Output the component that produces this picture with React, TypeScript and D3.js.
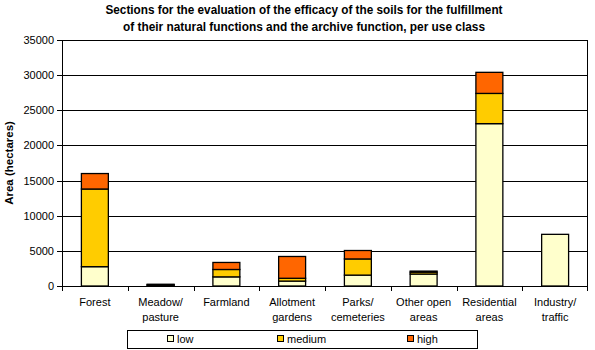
import React from 'react';
import * as d3 from 'd3';

const categories = [
  ['Forest'],
  ['Meadow/', 'pasture'],
  ['Farmland'],
  ['Allotment', 'gardens'],
  ['Parks/', 'cemeteries'],
  ['Other open', 'areas'],
  ['Residential', 'areas'],
  ['Industry/', 'traffic'],
];
const low = [2750, 100, 1300, 700, 1550, 1700, 23100, 7350];
const medium = [11050, 80, 1050, 400, 2300, 270, 4300, 0];
const high = [2200, 70, 1000, 3100, 1200, 150, 3000, 0];
const seriesNames = ['low', 'medium', 'high'];
const seriesColors = ['#FFFFCC', '#FFCC00', '#FF6600'];
const yTicks = [0, 5000, 10000, 15000, 20000, 25000, 30000, 35000];

const W = 595;
const H = 350;
const margin = { top: 40, right: 7, bottom: 64, left: 62 };
const font = 'Arial, "Liberation Sans", sans-serif';

const App = () => {
  const innerW = W - margin.left - margin.right;
  const innerH = H - margin.top - margin.bottom;

  const x = d3.scaleBand().domain(categories.map((c, i) => String(i))).range([0, innerW]);
  const y = d3.scaleLinear().domain([0, 35000]).range([innerH, 0]);

  const rows = categories.map((c, i) => ({ key: String(i), low: low[i], medium: medium[i], high: high[i] }));
  const stacked = d3.stack<any>().keys(seriesNames)(rows);
  const barW = x.bandwidth() * 0.41;

  return (
    <svg width={W} height={H} style={{ position: 'absolute', left: 0, top: 0, background: '#fff' }} fontFamily={font}>
      <text x={304} y={14} textAnchor="middle" fontSize={12} fontWeight="bold" textLength={397} lengthAdjust="spacingAndGlyphs">
        Sections for the evaluation of the efficacy of the soils for the fulfillment
      </text>
      <text x={304} y={31} textAnchor="middle" fontSize={12} fontWeight="bold" textLength={362} lengthAdjust="spacingAndGlyphs">
        of their natural functions and the archive function, per use class
      </text>
      <text transform={`translate(13, ${margin.top + innerH / 2}) rotate(-90)`} textAnchor="middle" fontSize={11.5} fontWeight="bold">
        Area (hectares)
      </text>
      <g transform={`translate(${margin.left},${margin.top})`}>
        {yTicks.map((t) => (
          <g key={t}>
            {t > 0 && <line x1={0} x2={innerW} y1={Math.round(y(t)) + 0.5} y2={Math.round(y(t)) + 0.5} stroke="#000" />}
            <line x1={-5} x2={0} y1={Math.round(y(t)) + 0.5} y2={Math.round(y(t)) + 0.5} stroke="#000" />
            <text x={-8} y={y(t) + 4} textAnchor="end" fontSize={11}>{t}</text>
          </g>
        ))}
        <line x1={innerW - 0.5} x2={innerW - 0.5} y1={0} y2={innerH} stroke="#000" />
        {stacked.map((s, si) =>
          s.map((d, i) =>
            d[1] - d[0] > 0 ? (
              <rect
                key={si + '-' + i}
                x={(x(String(i)) as number) + (x.bandwidth() - barW) / 2}
                y={y(d[1])}
                width={barW}
                height={y(d[0]) - y(d[1])}
                fill={seriesColors[si]}
                stroke="#000"
                strokeWidth={1.3}
              />
            ) : null
          )
        )}
        <line x1={0.5} x2={0.5} y1={0} y2={innerH} stroke="#000" />
        <line x1={0} x2={innerW} y1={innerH + 0.5} y2={innerH + 0.5} stroke="#000" />
        {categories.map((c, i) => (
          <line key={'t' + i} x1={Math.round(x(String(i)) as number) + 0.5} x2={Math.round(x(String(i)) as number) + 0.5} y1={innerH} y2={innerH + 5} stroke="#000" />
        ))}
        <line x1={innerW - 0.5} x2={innerW - 0.5} y1={innerH} y2={innerH + 5} stroke="#000" />
        {categories.map((c, i) => (
          <text key={'c' + i} x={(x(String(i)) as number) + x.bandwidth() / 2} y={innerH + 20} textAnchor="middle" fontSize={11}>
            {c.map((line, li) => (
              <tspan key={li} x={(x(String(i)) as number) + x.bandwidth() / 2} dy={li === 0 ? 0 : 15}>{line}</tspan>
            ))}
          </text>
        ))}
      </g>
      <rect x={127.5} y={330.5} width={350} height={18} fill="#fff" stroke="#000" />
      {seriesNames.map((n, i) => {
        const lx = [167, 277, 407][i];
        return (
          <g key={n}>
            <rect x={lx + 0.5} y={335.5} width={6} height={6} fill={seriesColors[i]} stroke="#000" />
            <text x={lx + 10} y={343} fontSize={11}>{n}</text>
          </g>
        );
      })}
    </svg>
  );
};

export default App;
